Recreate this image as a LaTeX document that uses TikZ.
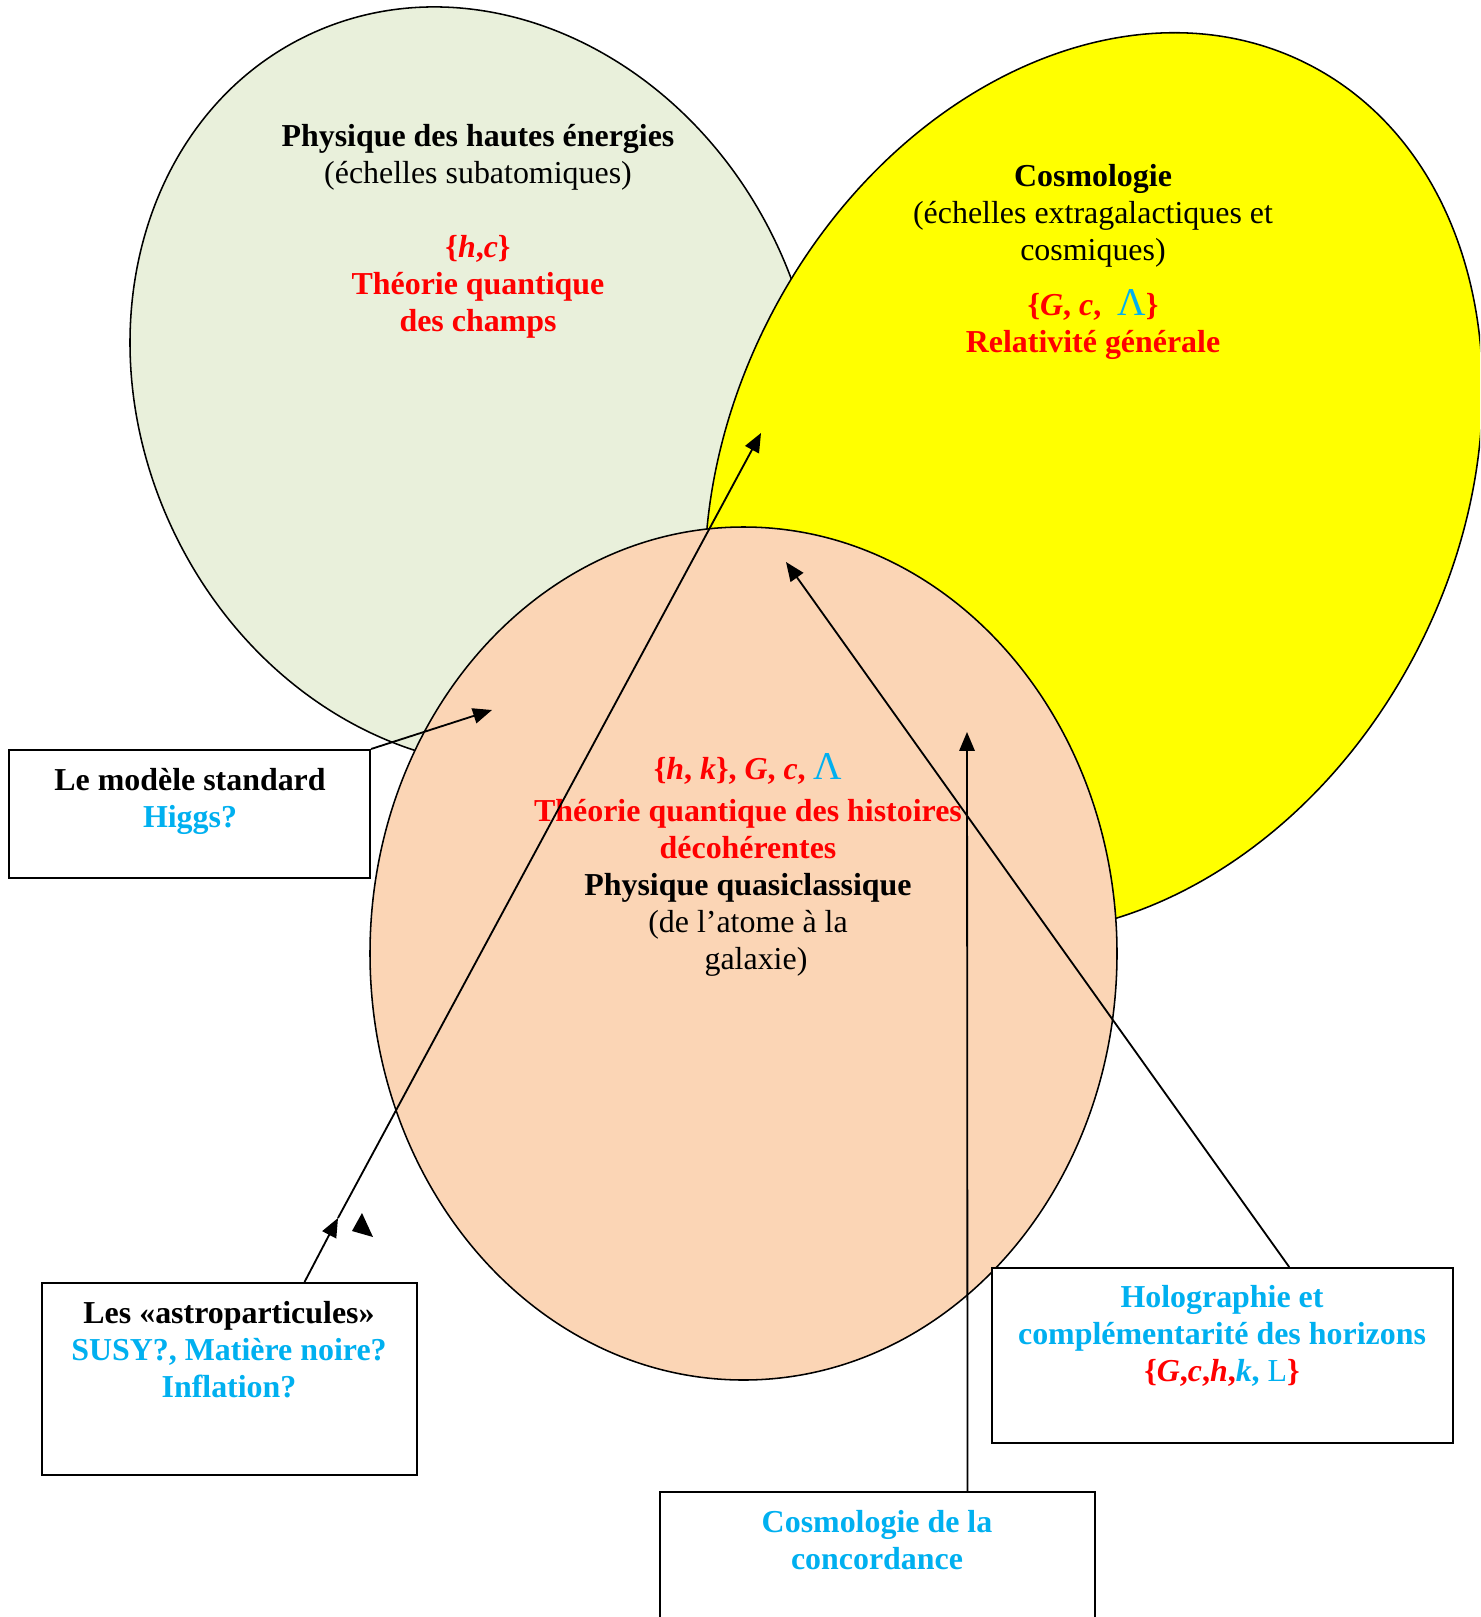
\documentclass[tikz,border=0pt]{standalone}
\usepackage{fontspec}
\setmainfont{Liberation Serif}
\usetikzlibrary{arrows.meta,calc,positioning}

\definecolor{vertpale}{RGB}{233,240,219}
\definecolor{jaune}{RGB}{255,255,0}
\definecolor{peche}{RGB}{251,213,181}
\definecolor{bleu}{RGB}{0,176,240}
\definecolor{rouge}{RGB}{255,0,0}

\newcommand\corps{\fontsize{22.7pt}{26.3pt}\selectfont}
\newcommand\lam{{\fontsize{28pt}{28pt}\selectfont\color{bleu}Λ}}

\begin{document}
\begin{tikzpicture}[
  x=0.025cm, y=-0.025cm,
  zone/.style={draw=black,line width=1.1pt},
  cadre/.style={draw=black,line width=1.4pt,fill=white,inner sep=0pt},
  bloc/.style={align=center,inner sep=0pt,font=\corps},
  fleche/.style={line width=1.3pt,-{Triangle[length=13.5pt,width=11pt]}}
]
  \useasboundingbox (0,0) rectangle (1480,1617);
  \clip (0,0) rectangle (1480,1617);

  % les trois domaines
  \draw[zone,fill=vertpale,rotate around={-64.9:(474.6,386.7)}] (474.6,386.7) ellipse (389 and 334);
  \draw[zone,fill=jaune,rotate around={62.75:(1093.6,483.5)}] (1093.6,483.5) ellipse (471 and 364);
  \draw[zone,fill=peche] (743.5,953.5) ellipse (373.5 and 426.5);

  \node[bloc] (hautes) at (478,231) {\textbf{Physique des hautes énergies}\\
    (échelles subatomiques)\\[26.3pt]
    \textcolor{rouge}{\textbf{\{\textit{h},\textit{c}\}}}\\
    \textcolor{rouge}{\textbf{Théorie quantique}}\\
    \textcolor{rouge}{\textbf{des champs}}};

  \node[bloc] (cosmo) at (1093,262) {\textbf{Cosmologie}\\
    (échelles extragalactiques et\\
    cosmiques)\\[13pt]
    \textcolor{rouge}{\textbf{\{\textit{G}, \textit{c},}}\hspace{0.5em}\lam\textcolor{rouge}{\textbf{\}}}\\
    \textcolor{rouge}{\textbf{Relativité générale}}};

  \node[bloc] (quasi) at (748,865) {\textcolor{rouge}{\textbf{\{\textit{h}, \textit{k}\}, \textit{G}, \textit{c},}} \lam\\[3pt]
    \textcolor{rouge}{\textbf{Théorie quantique des histoires}}\\
    \textcolor{rouge}{\textbf{décohérentes}}\\
    \textbf{Physique quasiclassique}\\
    (de l’atome à la\\
    \hspace{0.5em}galaxie)};

  % les encadres
  \node[cadre,minimum width=9.025cm,minimum height=3.2cm] (modele) at (189.5,814) {};
  \node[bloc] (modeleTxt) at (190,801.5) {\textbf{Le modèle standard}\\
    \textcolor{bleu}{\textbf{Higgs?}}};

  \node[cadre,minimum width=9.375cm,minimum height=4.8cm] (astro) at (229.5,1379) {};
  \node[bloc] (astroTxt) at (229,1350) {\textbf{Les «astroparticules»}\\
    \textcolor{bleu}{\textbf{SUSY?, Matière noire?}}\\
    \textcolor{bleu}{\textbf{Inflation?}}};

  \node[cadre,minimum width=11.525cm,minimum height=4.375cm] (holo) at (1222.5,1355.5) {};
  \node[bloc] (holoTxt) at (1222,1336) {\textcolor{bleu}{\textbf{Holographie et}}\\
    \textcolor{bleu}{\textbf{complémentarité des horizons}}\\
    \textcolor{rouge}{\textbf{\{\textit{G},\textit{c},\textit{h},}}\textcolor{bleu}{\textbf{\textit{k},}} \textcolor{bleu}{L}\textcolor{rouge}{\textbf{\}}}};

  \node[cadre,minimum width=10.875cm,minimum height=5.2cm] (concord) at (877.5,1596) {};
  \node[bloc] (concordTxt) at (877,1540.5) {\textcolor{bleu}{\textbf{Cosmologie de la}}\\
    \textcolor{bleu}{\textbf{concordance}}};

  % les fleches
  \coordinate (higgsPt) at (492,710);
  \coordinate (astroMid) at (338,1218);
  \coordinate (astroPt) at (761,433);
  \coordinate (holoPt) at (786,562);
  \coordinate (concordPt) at (967,732);

  \draw[fleche] (modele.north east) -- (higgsPt);
  \draw[fleche] ($(astro.north west)!0.699!(astro.north east)$) -- (astroMid);
  \draw[fleche] (astroMid) -- (astroPt);
  \draw[fleche] ($(holo.north west)!0.644!(holo.north east)$) -- (holoPt);
  \draw[fleche] ($(concord.north west)!0.706!(concord.north east)$) -- (concordPt);
  \fill (362,1213) -- (352,1231) -- (373,1237) -- cycle;
\end{tikzpicture}
\end{document}
